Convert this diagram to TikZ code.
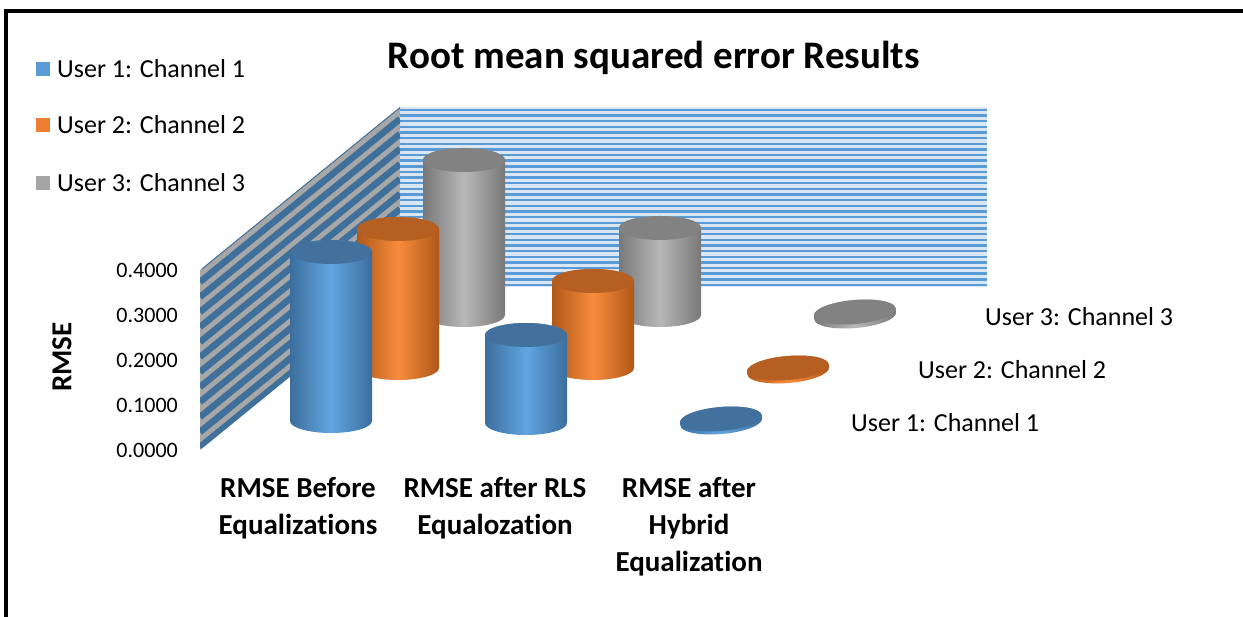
\documentclass[tikz,border=0pt]{standalone}
\usepackage{fontspec}
\setmainfont{Carlito}[Ligatures=NoCommon]
\usetikzlibrary{calc}
\definecolor{userone}{HTML}{5B9BD5}
\definecolor{usertwo}{HTML}{ED7D31}
\definecolor{userthree}{HTML}{A5A5A5}
\definecolor{onedark}{HTML}{3B6E9C}
\definecolor{onelight}{HTML}{62A5E2}
\definecolor{onetop}{HTML}{41719C}
\definecolor{twodark}{HTML}{B0581A}
\definecolor{twolight}{HTML}{F88C3C}
\definecolor{twotop}{HTML}{B65F22}
\definecolor{threedark}{HTML}{787878}
\definecolor{threelight}{HTML}{B8B8B8}
\definecolor{threetop}{HTML}{828282}
\definecolor{wallbg}{HTML}{D9E7F5}
\definecolor{sideblue}{HTML}{3F6F9B}
\definecolor{sidegray}{HTML}{A7A7A7}
% cylinder: centre x, bottom y, top y (pixel rows), dark, light, top colour
\newcommand\cylbar[6]{%
  \path[left color=#4,right color=#4,middle color=#5]
    ({#1-41},{617-#2}) arc[start angle=180,end angle=360,x radius=41,y radius=12]
    -- ({#1+41},{617-#3}) arc[start angle=0,end angle=180,x radius=41,y radius=12] -- cycle;
  \fill[#6] (#1,{617-#3}) ellipse[x radius=41,y radius=12];}

\begin{document}
\begin{tikzpicture}[x=1pt,y=1pt,every node/.style={inner sep=0pt},
  legendtxt/.style={font=\fontsize{26}{30}\selectfont,anchor=west},
  ticklbl/.style={font=\fontsize{22}{26}\selectfont,anchor=east},
  catlbl/.style={font=\bfseries\fontsize{29}{37}\selectfont,align=center,anchor=north}]
  \useasboundingbox (0,0) rectangle (1243,617);
  \begin{scope}
    \clip (0,0) rectangle (1243,617);
    \draw[line width=4pt] (6,-20) -- (6,606) -- (1260,606);
  \end{scope}
  \node[font=\bfseries\fontsize{39}{44}\selectfont] (title) at (654,559) {Root mean squared error Results};
  \foreach \py/\col/\k in {69/userone/1,125/usertwo/2,183/userthree/3} {
    \fill[\col] (36,{617-\py-7}) rectangle (50,{617-\py+7});
    \node[legendtxt] (leg\k) at (57,{617-\py}) {User \k: Channel \k};
  }
  \fill[wallbg] (400,330) rectangle (987,510);
  \foreach \k in {0,...,31}
    \draw[userone,line width=2.4pt] (400,{332+\k*5.65}) -- (987,{332+\k*5.65});
  \begin{scope}
    \clip (200,347) -- (400,510) -- (400,330) -- (200,167) -- cycle;
    \fill[sidegray] (200,140) rectangle (400,520);
    \foreach \k in {0,...,14}
      \draw[sideblue,line width=6.5pt] (200,{350-\k*15}) -- (400,{513-\k*15});
  \end{scope}
  \foreach \xc/\yb/\yt in {464/315/160,660/315/228}
    {\cylbar{\xc}{\yb}{\yt}{threedark}{threelight}{threetop}}
  \foreach \xc/\yb/\yt in {398/368/229,593/368/281}
    {\cylbar{\xc}{\yb}{\yt}{twodark}{twolight}{twotop}}
  \foreach \xc/\yb/\yt in {331/421/252,526/423/335}
    {\cylbar{\xc}{\yb}{\yt}{onedark}{onelight}{onetop}}
  \begin{scope}[rotate around={5:(855,303)}]
    \cylbar{855}{316}{312}{threedark}{threelight}{threetop}
  \end{scope}
  \begin{scope}[rotate around={5:(788,248)}]
    \cylbar{788}{371}{368}{twodark}{twolight}{twotop}
  \end{scope}
  \begin{scope}[rotate around={5:(721,197)}]
    \cylbar{721}{422}{419}{onedark}{onelight}{onetop}
  \end{scope}
  \foreach \v/\py [count=\i] in {0.4000/270,0.3000/315,0.2000/360,0.1000/405,0.0000/450}
    \node[ticklbl] (tick\i) at (178,{617-\py}) {\v};
  \node[font=\bfseries\fontsize{29}{34}\selectfont,rotate=90] (ylbl) at (62,260) {RMSE};
  \node[catlbl] (catone) at (298,140) {RMSE Before\\Equalizations};
  \node[catlbl] (cattwo) at (495,140) {RMSE after RLS\\Equalozation};
  \node[catlbl] (catthree) at (689,140) {RMSE after\\Hybrid\\Equalization};
  \node[legendtxt] (depthone) at (851,194) {User 1: Channel 1};
  \node[legendtxt] (depthtwo) at (918,247) {User 2: Channel 2};
  \node[legendtxt] (depththree) at (985,300) {User 3: Channel 3};
\end{tikzpicture}
\end{document}
